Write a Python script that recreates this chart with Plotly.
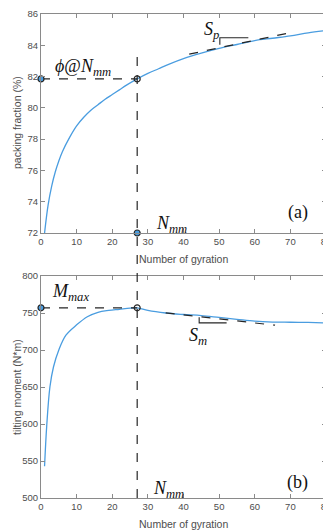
import plotly.graph_objects as go
from plotly.subplots import make_subplots

# --- data ---
gyr_a = [1, 2, 3, 4, 5, 6, 8, 10, 12, 14, 16, 18, 20, 22, 24, 27, 30, 33, 36, 40,
         45, 50, 55, 60, 65, 70, 75, 80]
packing = [72.0, 73.8, 75.0, 75.9, 76.6, 77.2, 78.1, 78.85, 79.4, 79.85, 80.2, 80.55,
           80.85, 81.15, 81.45, 81.85, 82.2, 82.5, 82.8, 83.15, 83.5, 83.8, 84.05,
           84.3, 84.45, 84.6, 84.8, 84.95]

gyr_b = [1, 1.6, 2.5, 3.5, 5, 7, 10, 13, 16, 19, 22, 25, 27, 30, 35, 40, 45, 50,
         55, 60, 65, 70, 75, 80]
moment = [543, 597, 650, 677, 700, 720, 734, 745, 751, 753.5, 755, 756.5, 757,
          753.5, 750, 748, 746.5, 744, 741.5, 739, 737.8, 737.5, 737.2, 736.7]

n_mm = 27
phi_at_nmm = 81.85
m_max = 757
sp_line_x = [41.6, 69.4]
sp_line_y = [83.43, 84.78]
sp_tri_x = [58.2, 50.2, 50.2]
sp_tri_y = [84.48, 84.48, 84.04]
sm_line_x = [35, 65.7]
sm_line_y = [750.1, 733.5]
sm_tri_x = [44.4, 44.4, 52.1]
sm_tri_y = [744.2, 736.7, 736.7]

x_title = "Number of gyration"
y_title_a = "packing fraction (%)"
y_title_b = "tilting moment (N*m)"

blue = "#4a9de0"
dark = "#262626"
axc = "#8a8a8a"
txtc = "#4d4d4d"

fig = make_subplots(rows=2, cols=1)

# top plot
fig.add_trace(go.Scatter(x=gyr_a, y=packing, mode="lines", line=dict(color=blue, width=1.3, shape="spline")), 1, 1)
fig.add_trace(go.Scatter(x=[0, n_mm], y=[phi_at_nmm, phi_at_nmm], mode="lines",
                         line=dict(color=dark, width=1.2, dash="dash")), 1, 1)
fig.add_trace(go.Scatter(x=sp_line_x, y=sp_line_y, mode="lines",
                         line=dict(color=dark, width=1.2, dash="dash")), 1, 1)
fig.add_trace(go.Scatter(x=sp_tri_x, y=sp_tri_y, mode="lines",
                         line=dict(color=dark, width=1.1)), 1, 1)
fig.add_trace(go.Scatter(x=[0, n_mm], y=[phi_at_nmm, 72], mode="markers", cliponaxis=False,
                         marker=dict(color=blue, size=6, line=dict(color=dark, width=1.2))), 1, 1)
fig.add_trace(go.Scatter(x=[n_mm], y=[phi_at_nmm], mode="markers", cliponaxis=False,
                         marker=dict(color="rgba(0,0,0,0)", size=6, line=dict(color=dark, width=1.2))), 1, 1)

# bottom plot
fig.add_trace(go.Scatter(x=gyr_b, y=moment, mode="lines", line=dict(color=blue, width=1.3, shape="spline")), 2, 1)
fig.add_trace(go.Scatter(x=[0, n_mm], y=[m_max, m_max], mode="lines",
                         line=dict(color=dark, width=1.2, dash="dash")), 2, 1)
fig.add_trace(go.Scatter(x=sm_line_x, y=sm_line_y, mode="lines",
                         line=dict(color=dark, width=1.2, dash="dash")), 2, 1)
fig.add_trace(go.Scatter(x=sm_tri_x, y=sm_tri_y, mode="lines",
                         line=dict(color=dark, width=1.1)), 2, 1)
fig.add_trace(go.Scatter(x=[0], y=[m_max], mode="markers", cliponaxis=False,
                         marker=dict(color=blue, size=6, line=dict(color=dark, width=1.2))), 2, 1)
fig.add_trace(go.Scatter(x=[n_mm], y=[m_max], mode="markers", cliponaxis=False,
                         marker=dict(color="rgba(0,0,0,0)", size=6, line=dict(color=dark, width=1.2))), 2, 1)

# page offset (browser body margin) and figure geometry
OFF = 8
PTOP, PBOT = 14, 498          # page y of plot-area top / bottom
W, H = 331 - OFF, 531 - OFF
ml, mr, mt = 41 - OFF, 5, PTOP - OFF
mb = H - (PBOT - OFF)
plot_w = W - ml - mr
plot_h = H - mt - mb

top_dom = [(PBOT - 233) / (PBOT - PTOP), 1.0]
bot_dom = [0.0, (PBOT - 276) / (PBOT - PTOP)]
y_top = top_dom[0] + (83.68 - 72) / 14 * (top_dom[1] - top_dom[0])
fig.add_shape(type="line", xref="x", yref="paper", x0=n_mm, x1=n_mm, y0=0, y1=y_top,
              line=dict(color=dark, width=1.2, dash="dash"))

axis_common = dict(showline=True, linecolor=axc, linewidth=1, mirror="ticks", ticks="inside",
                   ticklen=4, tickcolor=axc, showgrid=False, zeroline=False, automargin=False,
                   ticklabeloverflow="allow",
                   tickfont=dict(family="Liberation Sans, Arial", size=9.5, color=txtc))

fig.update_xaxes(range=[0, 80], dtick=10, **axis_common)
fig.update_yaxes(range=[72, 86], dtick=2, domain=top_dom, row=1, col=1, **axis_common)
fig.update_yaxes(range=[500, 800], dtick=50, domain=bot_dom, row=2, col=1, **axis_common)


def px2paper(px, py):
    return (px - OFF - ml) / plot_w, 1 - (py - OFF - mt) / plot_h


title_font = dict(family="Liberation Sans, Arial", size=10.5, color=txtc)
for (px, py, txt, ang) in [(183, 259, x_title, 0), (183, 524, x_title, 0),
                           (17, 123, y_title_a, -90), (17, 387, y_title_b, -90)]:
    fx, fy = px2paper(px, py)
    fig.add_annotation(x=fx, y=fy, xref="paper", yref="paper", text=txt, showarrow=False,
                       textangle=ang, xanchor="center", yanchor="middle", font=title_font)

serif = "Liberation Serif, Times New Roman, serif"
ann = [
    dict(x=53, y=68, text="<i>ϕ</i>@<i>N<sub>mm</sub></i>", anchor="left"),
    dict(x=211, y=30, text="<i>S<sub>p</sub></i>", anchor="center"),
    dict(x=298, y=212, text="(a)", anchor="center"),
    dict(x=171, y=225, text="<i>N<sub>mm</sub></i>", anchor="center"),
    dict(x=70, y=292, text="<i>M<sub>max</sub></i>", anchor="center"),
    dict(x=198, y=336, text="<i>S<sub>m</sub></i>", anchor="center"),
    dict(x=168, y=489, text="<i>N<sub>mm</sub></i>", anchor="center"),
    dict(x=297, y=482, text="(b)", anchor="center"),
]
for a in ann:
    fx, fy = px2paper(a["x"], a["y"])
    fig.add_annotation(x=fx, y=fy, xref="paper", yref="paper", text=a["text"], showarrow=False,
                       xanchor=a["anchor"], yanchor="middle",
                       font=dict(family=serif, size=18, color="#111"))

fig.update_layout(width=W, height=H, margin=dict(l=ml, r=mr, t=mt, b=mb),
                  paper_bgcolor="white", plot_bgcolor="white", showlegend=False)

fig.write_html("out.html")
